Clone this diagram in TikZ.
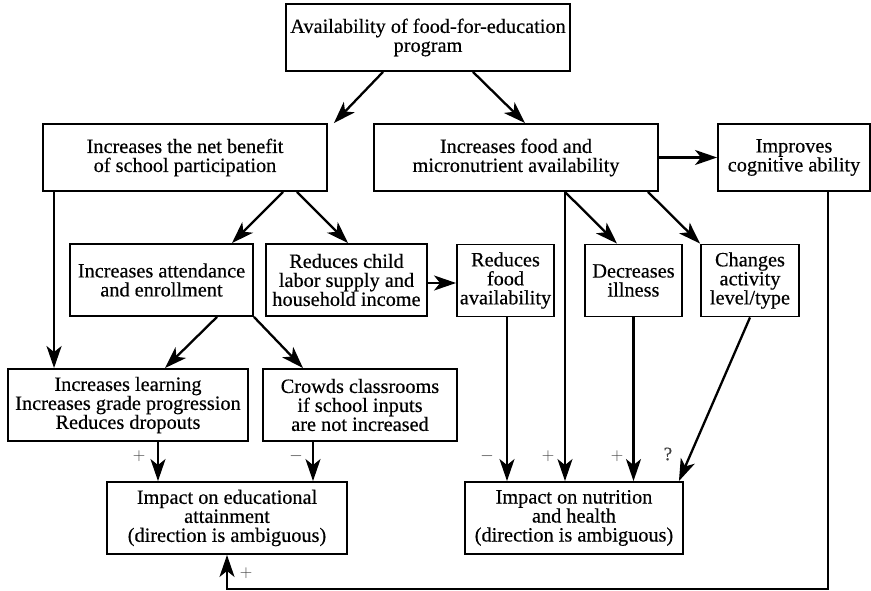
\documentclass[tikz,border=0pt]{standalone}
\usepackage{fontspec}
\setmainfont{Liberation Serif}[FakeBold=0.4]
\usetikzlibrary{arrows.meta}

\begin{document}
\begin{tikzpicture}[x=1pt,y=-1pt,
        box/.style={rectangle,draw,line width=1.9pt,align=center,inner sep=2pt,font=\fontsize{20.3}{19}\selectfont},
        arr/.style={line width=2.3pt,-{Stealth[length=22pt,width=15pt,inset=6pt]}},
        sign/.style={font=\fontsize{19}{19}\selectfont,text=black!75}]
        \fill[white] (0,0) rectangle (871,591);
        \useasboundingbox (0,0) rectangle (871,591);

        % top row
        \node[box,minimum width=284pt,minimum height=67pt] (prog) at (428,37.5) {Availability of food-for-education\\program};
        \node[box,minimum width=284pt,minimum height=67pt] (netben) at (185,157.5) {Increases the net benefit\\of school participation};
        \node[box,minimum width=284pt,minimum height=67pt] (foodav) at (516,157.5) {Increases food and\\micronutrient availability};
        \node[box,minimum width=152pt,minimum height=67pt] (cogn) at (794,157.5) {Improves\\cognitive ability};

        % middle row
        \node[box,minimum width=183pt,minimum height=72pt] (attend) at (161.5,280) {Increases attendance\\and enrollment};
        \node[box,minimum width=161pt,minimum height=72pt] (labor) at (346.5,280) {Reduces child\\labor supply and\\household income};
        \node[box,minimum width=97pt,minimum height=72pt] (redfood) at (505.5,280.5) {Reduces\\food\\availability};
        \node[box,minimum width=97pt,minimum height=72pt] (illness) at (633.5,280.5) {Decreases\\illness};
        \node[box,minimum width=98pt,minimum height=72pt] (activity) at (750,280.5) {Changes\\activity\\level/type};

        \node[box,minimum width=240pt,minimum height=72pt] (learning) at (128,405) {Increases learning\\Increases grade progression\\Reduces dropouts};
        \node[box,minimum width=194pt,minimum height=72pt] (crowds) at (360,405) {Crowds classrooms\\if school inputs\\are not increased};

        % bottom row
        \node[box,minimum width=240pt,minimum height=72pt] (eduimp) at (227,518) {Impact on educational\\attainment\\(direction is ambiguous)};
        \node[box,minimum width=218pt,minimum height=72pt] (nutimp) at (574,518) {Impact on nutrition\\and health\\(direction is ambiguous)};

        % connectors
        \draw[arr] ([xshift=-45pt]prog.south) -- ([xshift=6pt]netben.north east);
        \draw[arr] ([xshift=45pt]prog.south) -- ([xshift=9pt]foodav.north);
        \draw[arr] ([xshift=98pt]netben.south) -- ([xshift=70.5pt]attend.north);
        \draw[arr] ([xshift=112pt]netben.south) -- ([xshift=1.5pt]labor.north);
        \draw[arr] ([xshift=12pt]netben.south west) -- ([xshift=12pt]netben.south west |- learning.north);
        \draw[arr] (foodav.east) -- (cogn.west);
        \draw[arr] ([yshift=-3pt]labor.east) -- ([yshift=-3pt]labor.east -| redfood.west);
        \draw[arr] ([xshift=49pt]foodav.south) -- ([xshift=-16.5pt]illness.north);
        \draw[arr] ([xshift=132pt]foodav.south) -- (activity.north west);
        \draw[arr] ([xshift=49pt]foodav.south) -- ([xshift=49pt]foodav.south |- nutimp.north);
        \draw[arr] ([xshift=1.5pt]redfood.south) -- ([xshift=1.5pt]redfood.south |- nutimp.north);
        \draw[arr] (illness.south) -- (illness.south |- nutimp.north);
        \draw[arr] (activity.south) -- ([xshift=-5pt]nutimp.north east);
        \draw[arr] ([xshift=55.5pt]attend.south) -- ([xshift=37pt]learning.north);
        \draw[arr] (attend.south east) -- ([xshift=-57pt]crowds.north);
        \draw[arr] ([xshift=30pt]learning.south) -- ([xshift=30pt]learning.south |- eduimp.north);
        \draw[arr] ([xshift=-47pt]crowds.south) -- ([xshift=-47pt]crowds.south |- eduimp.north);
        \draw[arr] ([xshift=34pt]cogn.south) |- ([yshift=-34pt]eduimp.south) -- (eduimp.south);

        % signs
        \node[sign] (s1) at (139,456) {$+$};
        \node[sign] (s2) at (296,456) {$-$};
        \node[sign] (s3) at (487,456) {$-$};
        \node[sign] (s4) at (548,456) {$+$};
        \node[sign] (s5) at (617,456) {$+$};
        \node[sign] (s6) at (668,454) {?};
        \node[sign] (s7) at (246,573) {$+$};
    \end{tikzpicture}
\end{document}
